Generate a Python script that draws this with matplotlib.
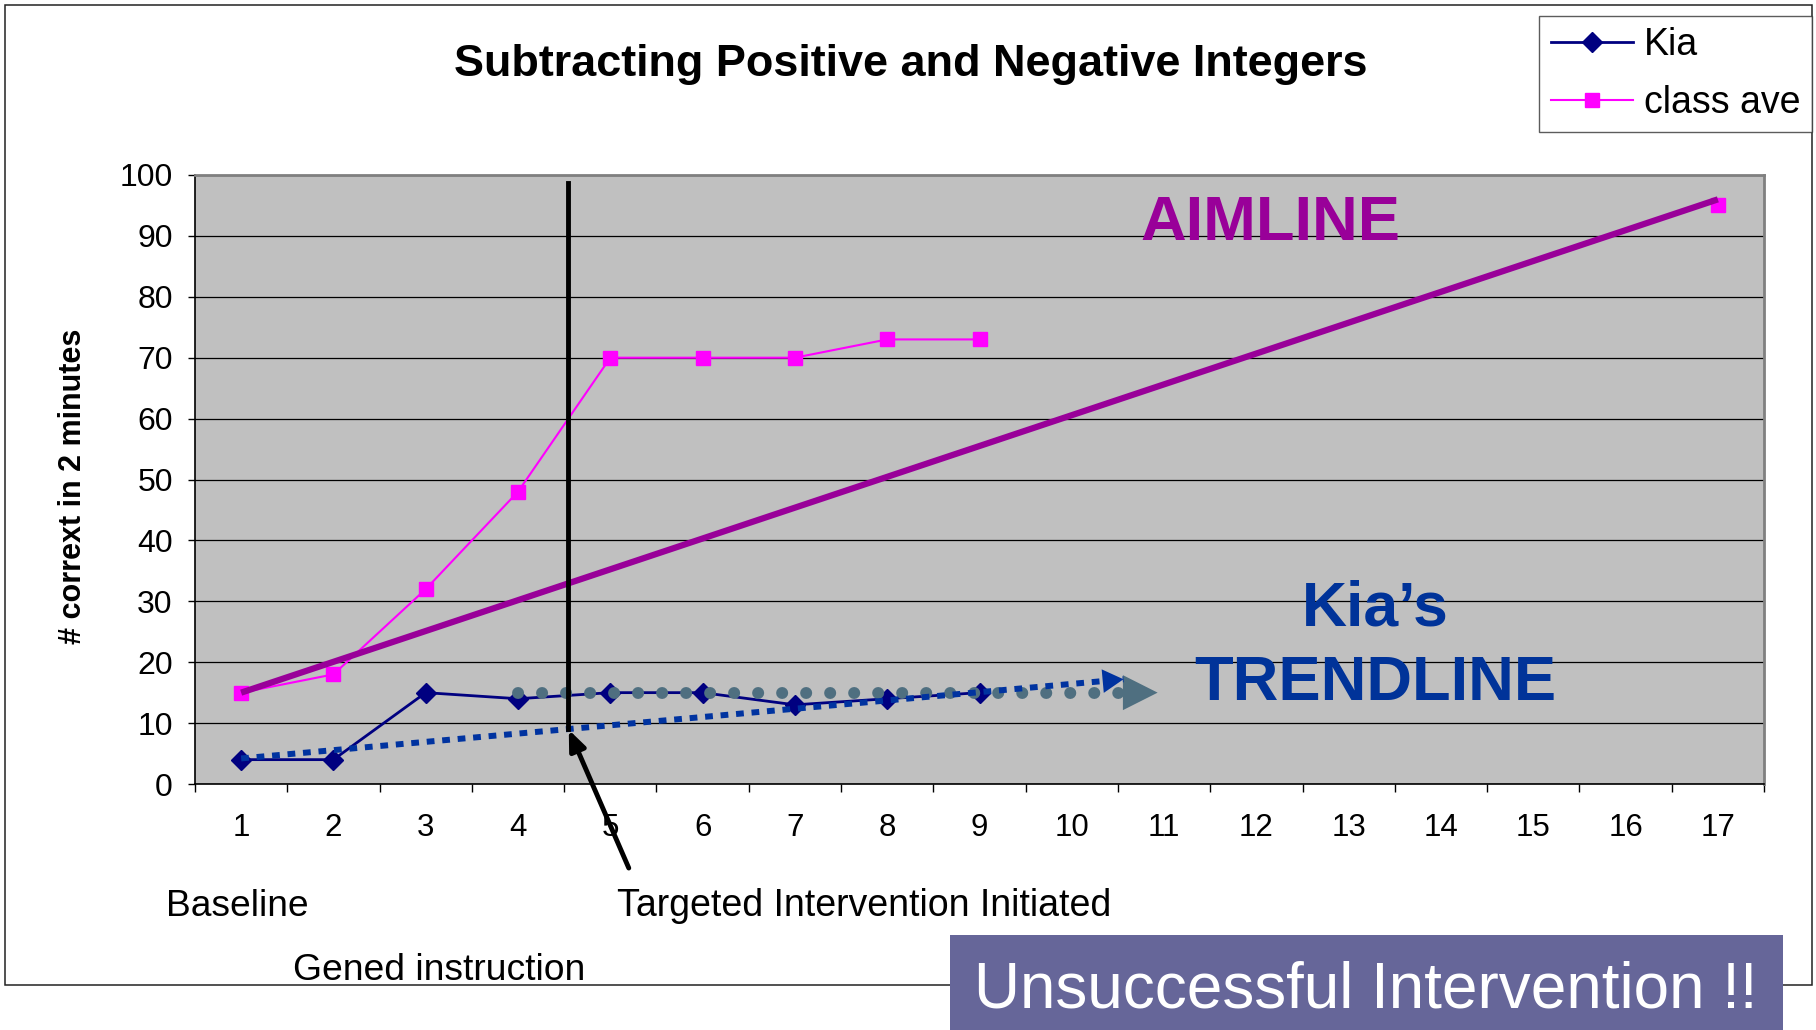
import matplotlib
matplotlib.use('Agg')
import matplotlib.pyplot as plt
import numpy as np
from matplotlib.patches import Rectangle
from matplotlib.lines import Line2D

plt.rcParams['font.family'] = ['Liberation Sans', 'DejaVu Sans']

# data
weeks = np.arange(1, 18)
kia = [4, 4, 15, 14, 15, 15, 13, 14, 15] + [np.nan] * 8
class_ave = [15, 18, 32, 48, 70, 70, 70, 73, 73] + [np.nan] * 7 + [95]

# drawn lines on top of the chart (data units)
aim_x = [1, 17]
aim_y = [15, 96]
trend_x = [1, 10.56]
trend_y = [4.2, 17.2]
plateau_x = [4, 10.93]
plateau_y = [15, 15]
intervention_x = [4.54, 4.54]
intervention_y = [9, 98.7]
pointer_from = (5.2, -13.8)
pointer_to = (4.55, 8.9)

W, H = 1816, 1030
def fx(x):
    return x / W
def fy(y):
    return 1 - y / H

fig = plt.figure(figsize=(W / 100, H / 100), dpi=100, facecolor='white')
ax = fig.add_axes([fx(195), fy(784), (1764 - 195) / W, (784 - 175) / H])
ax.set_facecolor('#c0c0c0')

# gridlines
ax.set_ylim(0, 100)
ax.set_xlim(0.5, 17.5)
ax.set_yticks(np.arange(0, 101, 10))
ax.yaxis.grid(True, color='black', lw=0.9)
ax.set_axisbelow(True)

ax.set_xticks(np.arange(0.5, 18, 1))
ax.set_xticklabels([])
ax.set_xticks(weeks, minor=True)
ax.set_xticklabels([str(w) for w in weeks], minor=True)
ax.tick_params(axis='x', which='major', length=6, width=1, direction='out')
ax.tick_params(axis='x', which='minor', length=0, pad=21, labelsize=22.5)
ax.tick_params(axis='y', length=5, width=1, direction='out', pad=11, labelsize=23)

for s in ['top', 'right']:
    ax.spines[s].set_color('#808080')
    ax.spines[s].set_linewidth(2)
for s in ['left', 'bottom']:
    ax.spines[s].set_color('black')
    ax.spines[s].set_linewidth(1.2)

# series
ax.plot(weeks, class_ave, color='#ff00ff', lw=1.5, marker='s', ms=9.5, zorder=3)
ax.plot(weeks, kia, color='#000080', lw=2, marker='D', ms=10.5, zorder=3)

# aimline
ax.plot(aim_x, aim_y, color='#990099', lw=4.5, solid_capstyle='butt', zorder=4)

# Kia's trendline (dotted, arrow)
ax.plot(trend_x, trend_y, color='#0033a0', lw=4.3, dashes=(1.3, 1.3), zorder=5)
head_start = (trend_x[0] + 0.97 * (trend_x[1] - trend_x[0]),
              trend_y[0] + 0.97 * (trend_y[1] - trend_y[0]))
ax.annotate('', xy=(trend_x[1], trend_y[1]), xytext=head_start,
            arrowprops=dict(arrowstyle='-|>,head_length=15,head_width=8.5',
                            mutation_scale=1, color='#0033a0', lw=0,
                            shrinkA=0, shrinkB=0), zorder=5)

# grey plateau dots
ax.plot([plateau_x[0], plateau_x[1] - 0.35], plateau_y, color='#4f6f80', lw=8.6,
        dashes=(0.01, 2.0), dash_capstyle='round', zorder=4)
ax.annotate('', xy=(plateau_x[1], plateau_y[1]), xytext=(plateau_x[1] - 0.3, plateau_y[0]),
            arrowprops=dict(arrowstyle='-|>,head_length=25,head_width=12.6',
                            mutation_scale=1, color='#4f6f80', lw=0,
                            shrinkA=0, shrinkB=0), zorder=4)

# intervention line and pointer
ax.plot(intervention_x, intervention_y, color='black', lw=3.5, zorder=6)
ax.annotate('', xy=pointer_to, xytext=pointer_from, annotation_clip=False,
            arrowprops=dict(arrowstyle='-|>,head_length=12,head_width=5',
                            mutation_scale=1, color='black', lw=3.5,
                            shrinkA=0, shrinkB=0), zorder=6)

# texts
fig.text(fx(911), fy(76), 'Subtracting Positive and Negative Integers',
         fontsize=32.4, fontweight='bold', ha='center', va='baseline')
fig.text(fx(73), fy(486), '# corrext in 2 minutes', fontsize=22,
         fontweight='bold', rotation=90, ha='center', va='center')
fig.text(fx(1270), fy(240), 'AIMLINE', fontsize=45.5, fontweight='bold',
         color='#990099', ha='center', va='baseline')
fig.text(fx(1375), fy(625), 'Kia\u2019s', fontsize=45, fontweight='bold',
         color='#003399', ha='center', va='baseline')
fig.text(fx(1375), fy(700), 'TRENDLINE', fontsize=45.5, fontweight='bold',
         color='#003399', ha='center', va='baseline')
fig.text(fx(237), fy(916), 'Baseline', fontsize=26.7, ha='center', va='baseline')
fig.text(fx(617), fy(916), 'Targeted Intervention Initiated', fontsize=27,
         ha='left', va='baseline')
fig.text(fx(293), fy(980), 'Gened instruction', fontsize=26.8, ha='left', va='baseline')

# legend
handles = [Line2D([], [], color='#000080', lw=2, marker='D', ms=10.5),
           Line2D([], [], color='#ff00ff', lw=1.5, marker='s', ms=9.5)]
leg = fig.legend(handles, ['Kia', 'class ave'], loc='upper right',
                 bbox_to_anchor=(fx(1812), fy(16)), fontsize=27, frameon=True,
                 fancybox=False, edgecolor='#333333', borderaxespad=0,
                 handlelength=2.2, labelspacing=0.58, borderpad=0.3,
                 handletextpad=0.3)
leg.get_frame().set_linewidth(1.0)

# outer frame and banner
fig.add_artist(Rectangle((fx(5), fy(985)), (1812 - 5) / W, (985 - 5) / H,
                         transform=fig.transFigure, fill=False,
                         edgecolor='#222222', lw=1.1, zorder=0))
fig.add_artist(Rectangle((fx(950), 0), (1783 - 950) / W, (1030 - 935) / H,
                         transform=fig.transFigure, facecolor='#666699',
                         edgecolor='none', zorder=2))
fig.text(fx(1366), fy(1007), 'Unsuccessful Intervention !!', fontsize=46,
         color='white', ha='center', va='baseline', zorder=3)

fig.savefig('out.png', dpi=100, facecolor='white')
